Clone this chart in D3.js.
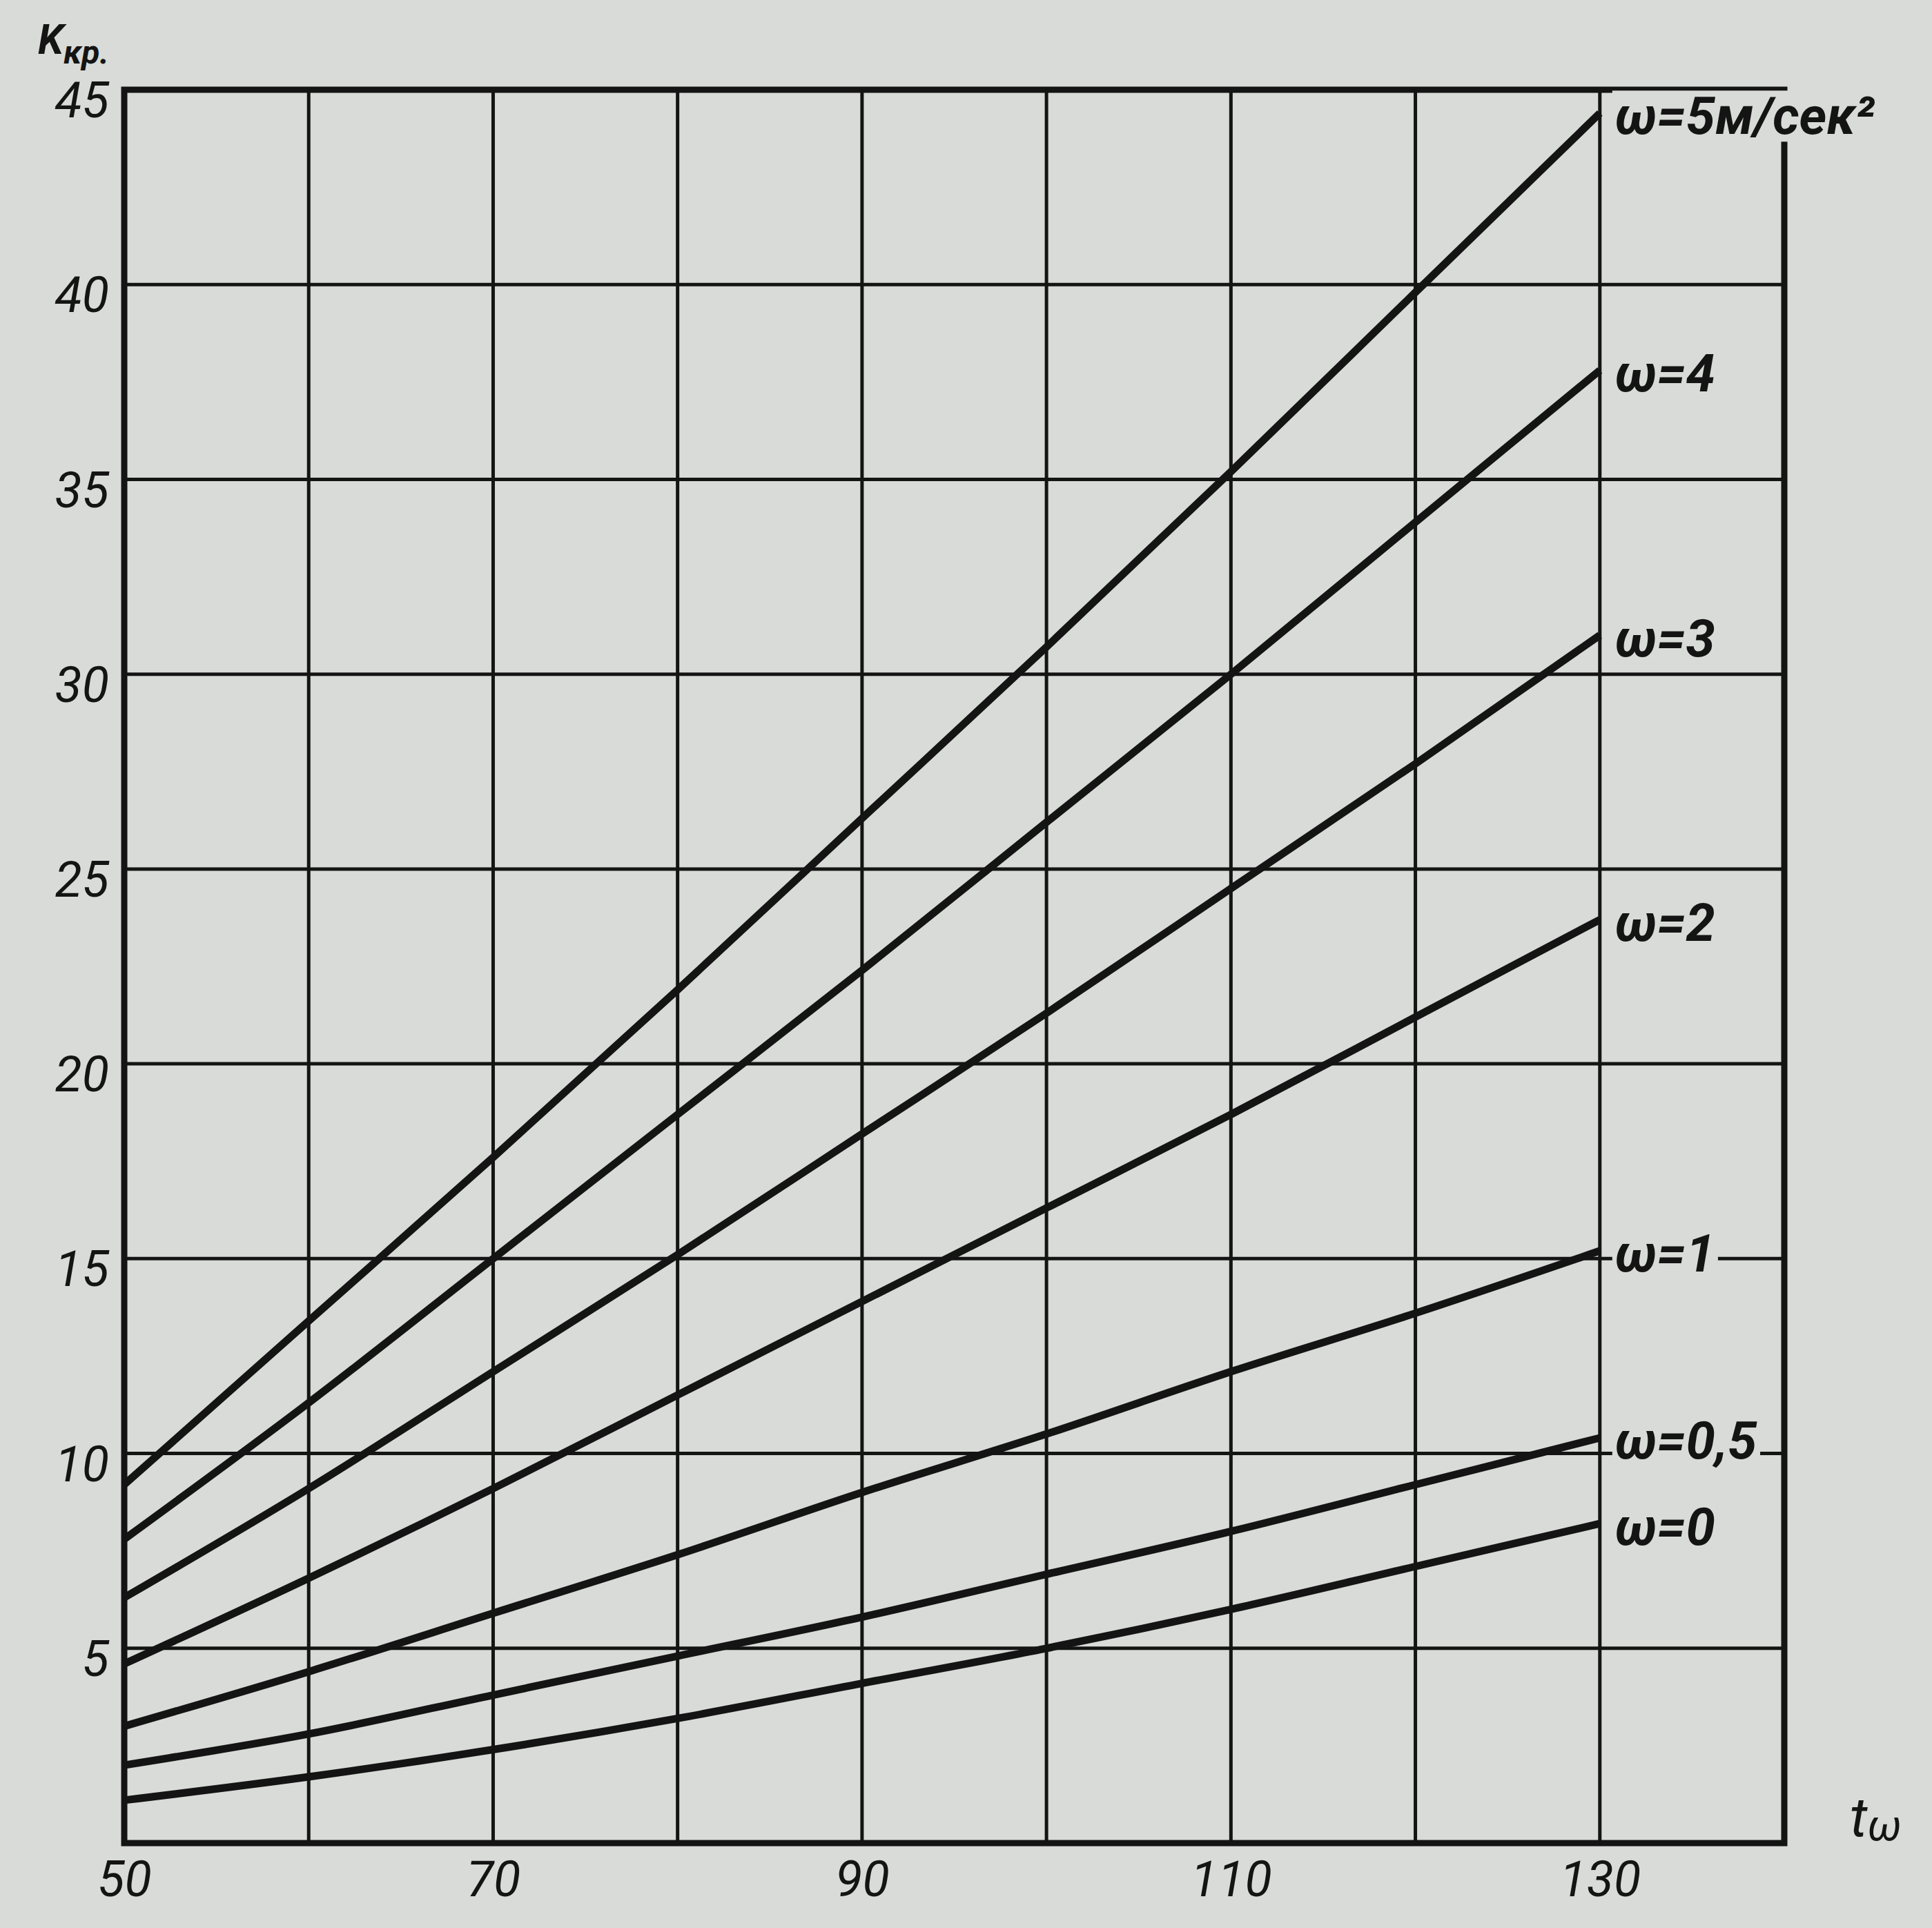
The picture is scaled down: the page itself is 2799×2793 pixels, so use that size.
<!DOCTYPE html>
<html>
<head>
<meta charset="utf-8">
<script src="https://cdn.jsdelivr.net/npm/d3@7"></script>
<style>
    body { margin: 0; background: #d8dbd7; }
    svg { display: block; }
    text { fill: #141414; font-style: italic; }
</style>
</head>
<body>
<div id="chart"></div>
<script>
/* Data */
const tValues = [50, 60, 70, 80, 90, 100, 110, 120, 130];

const kW5 = [9.2, 13.4, 17.6, 21.9, 26.3, 30.7, 35.2, 39.8, 44.4];
const kW4 = [7.8, 11.3, 15.0, 18.7, 22.4, 26.2, 30.0, 33.9, 37.8];
const kW3 = [6.3, 9.1, 12.1, 15.1, 18.2, 21.3, 24.5, 27.7, 31.0];
const kW2 = [4.6, 6.8, 9.1, 11.5, 13.9, 16.3, 18.7, 21.2, 23.7];
const kW1 = [3.0, 4.4, 5.9, 7.4, 9.0, 10.5, 12.1, 13.6, 15.2];
const kW05 = [2.0, 2.8, 3.8, 4.8, 5.8, 6.9, 8.0, 9.2, 10.4];
const kW0 = [1.1, 1.7, 2.4, 3.2, 4.1, 5.0, 6.0, 7.1, 8.2];

const seriesNames = ["ω=5м/сек²", "ω=4", "ω=3", "ω=2", "ω=1", "ω=0,5", "ω=0"];
const seriesValues = [kW5, kW4, kW3, kW2, kW1, kW05, kW0];

const xGrid = [50, 60, 70, 80, 90, 100, 110, 120, 130, 140];
const xLabels = [50, 70, 90, 110, 130];
const yGrid = [0, 5, 10, 15, 20, 25, 30, 35, 40, 45];
const yLabels = [5, 10, 15, 20, 25, 30, 35, 40, 45];

const yTitle = "K";
const yTitleSub = "кр.";
const xTitle = "t";
const xTitleSub = "ω";


var W = 2799;
var H = 2793;
var margin = {left: 180, top: 130, right: 214, bottom: 123};
var width = W - margin.left - margin.right;
var height = H - margin.top - margin.bottom;

var paper = "#d8dbd7";
var ink = "#141414";
var font = "Roboto, 'Liberation Sans', 'DejaVu Sans', sans-serif";

/* Scale */
var xScale = d3.scaleLinear()
    .domain([50, 140])
    .range([0, width]);

var yScale = d3.scaleLinear()
    .domain([0, 45])
    .range([height, 0]);

/* Add SVG */
var svgRoot = d3.select("#chart").append("svg")
    .attr("width", W)
    .attr("height", H)
    .style("font-family", font);

svgRoot.append("rect")
    .attr("width", W)
    .attr("height", H)
    .attr("fill", paper);

var svg = svgRoot.append("g")
    .attr("transform", `translate(${margin.left}, ${margin.top})`);

/* Grid */
var grid = svg.append("g").attr("class", "grid");

grid.selectAll(".vline")
    .data(xGrid).enter()
    .append("line")
    .attr("class", "vline")
    .attr("x1", d => xScale(d))
    .attr("x2", d => xScale(d))
    .attr("y1", 0)
    .attr("y2", height)
    .attr("stroke", ink)
    .attr("stroke-width", 5);

grid.selectAll(".hline")
    .data(yGrid).enter()
    .append("line")
    .attr("class", "hline")
    .attr("x1", 0)
    .attr("x2", width)
    .attr("y1", d => yScale(d))
    .attr("y2", d => yScale(d))
    .attr("stroke", ink)
    .attr("stroke-width", 5);

/* Frame */
svg.append("rect")
    .attr("x", 0)
    .attr("y", 0)
    .attr("width", width)
    .attr("height", height)
    .attr("fill", "none")
    .attr("stroke", ink)
    .attr("stroke-width", 9);

/* Curves */
var line = d3.line()
    .x((d, i) => xScale(tValues[i]))
    .y(d => yScale(d))
    .curve(d3.curveMonotoneX);

svg.append("g")
    .attr("class", "lines")
    .selectAll("path")
    .data(seriesValues).enter()
    .append("path")
    .attr("d", d => line(d))
    .attr("fill", "none")
    .attr("stroke", ink)
    .attr("stroke-width", 11)
    .attr("stroke-linecap", "butt");

/* Curve labels, with a patch of paper behind to break the grid */
var labels = svg.append("g").attr("class", "curve-labels");

seriesValues.forEach(function(vals, i) {
    var last = vals.length - 1;
    var g = labels.append("g");
    var t = g.append("text")
        .attr("x", xScale(tValues[last]) + 22)
        .attr("y", yScale(vals[last]))
        .attr("dy", "0.4em")
        .style("font-size", "76px")
        .style("font-weight", "bold")
        .text(seriesNames[i]);
    var bb = t.node().getBBox();
    g.insert("rect", "text")
        .attr("x", bb.x - 4)
        .attr("y", bb.y + 8)
        .attr("width", bb.width + 8)
        .attr("height", bb.height - 16)
        .attr("fill", paper);
});

/* Axes */
var yAxis = d3.axisLeft(yScale)
    .tickValues(yLabels)
    .tickSize(0)
    .tickPadding(22);

svg.append("g")
    .attr("class", "y axis")
    .call(yAxis)
    .call(g => g.select(".domain").remove())
    .selectAll("text")
    .attr("dy", "0.55em")
    .style("font-size", "72px")
    .style("font-family", font)
    .attr("fill", ink);

var xAxis = d3.axisBottom(xScale)
    .tickValues(xLabels)
    .tickSize(0)
    .tickPadding(26);

svg.append("g")
    .attr("class", "x axis")
    .attr("transform", `translate(0, ${height})`)
    .call(xAxis)
    .call(g => g.select(".domain").remove())
    .selectAll("text")
    .style("font-size", "72px")
    .style("font-family", font)
    .attr("fill", ink);

/* Axis titles */
var yt = svg.append("text")
    .attr("x", -125)
    .attr("y", -52)
    .style("font-size", "60px")
    .style("font-weight", "bold")
    .text(yTitle);
yt.append("tspan")
    .attr("dy", "0.3em")
    .style("font-size", "48px")
    .text(yTitleSub);

var xt = svg.append("text")
    .attr("x", width + 95)
    .attr("y", height - 10)
    .style("font-size", "80px")
    .text(xTitle);
xt.append("tspan")
    .attr("dy", "0.1em")
    .style("font-size", "62px")
    .text(xTitleSub);
</script>
</body>
</html>
